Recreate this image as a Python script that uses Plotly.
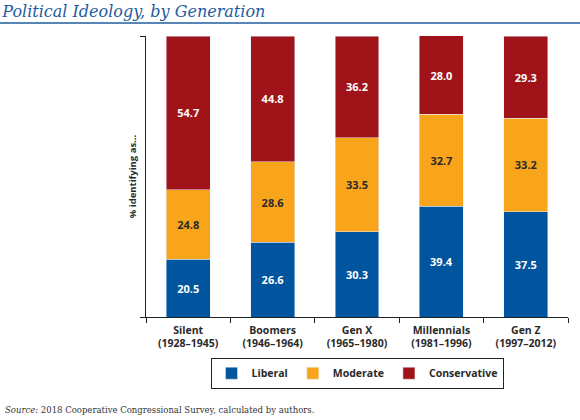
import plotly.graph_objects as go

generations = ["Silent<br>(1928–1945)", "Boomers<br>(1946–1964)", "Gen X<br>(1965–1980)",
               "Millennials<br>(1981–1996)", "Gen Z<br>(1997–2012)"]
liberal = [20.5, 26.6, 30.3, 39.4, 37.5]
moderate = [24.8, 28.6, 33.5, 32.7, 33.2]
conservative = [54.7, 44.8, 36.2, 28.0, 29.3]

# plot area in pixels (580x420 window)
L, R, T, B = 146, 12, 36, 103
pw, ph = 580 - L - R, 420 - T - B

fig = go.Figure()
for name, vals, color, txt in [("Liberal", liberal, "#00559E", "white"),
                               ("Moderate", moderate, "#F9A51B", "#2a2a2a"),
                               ("Conservative", conservative, "#A01319", "white")]:
    fig.add_trace(go.Bar(
        x=generations, y=vals, name=name, marker_color=color, width=0.52,
        text=[f"{v:.1f}" for v in vals], textposition="inside", insidetextanchor="middle",
        textfont=dict(color=txt, size=11, family="Open Sans", weight="bold"),
        hoverinfo="skip",
    ))

fig.update_layout(
    barmode="stack",
    width=580, height=420,
    margin=dict(l=L, r=R, t=T, b=B, autoexpand=False),
    plot_bgcolor="white", paper_bgcolor="white",
    font=dict(family="Open Sans", color="#2a2a2a"),
    title=dict(text="<i>Political Ideology, by Generation</i>", xref="container", x=0.004,
               y=1 - 11 / 420, yanchor="middle", xanchor="left",
               font=dict(family="DejaVu Serif", size=16, color="#1F5C9E")),
    legend=dict(orientation="h", x=0.5, xanchor="center", y=-0.2, yanchor="middle",
                bordercolor="#222", borderwidth=1, font=dict(size=10.5, weight="bold"),
                traceorder="normal", itemwidth=30, tracegroupgap=0),
    showlegend=True,
)
fig.update_xaxes(showline=True, linecolor="#222", linewidth=1, ticks="outside",
                 tickson="boundaries", ticklen=5, tickcolor="#222", automargin=False,
                 ticklabelstandoff=3,
                 tickfont=dict(size=10.5, weight="bold", color="#2a2a2a"))
fig.update_yaxes(range=[0, 100], showline=True, linecolor="#222", linewidth=1,
                 ticks="outside", tickvals=[0, 100], ticklen=5, tickcolor="#222",
                 showticklabels=False, showgrid=False, zeroline=False, automargin=False,
                 title=dict(text="% identifying as...", standoff=1,
                            font=dict(size=9.5, weight="bold", color="#2a2a2a")))

# rule under the title, full width
fig.add_shape(type="line", xref="paper", yref="paper",
              x0=-L / pw, x1=(580 - L) / pw, y0=(420 - B - 23) / ph, y1=(420 - B - 23) / ph,
              line=dict(color="#1F5C9E", width=1.5))

fig.add_annotation(text="<i>Source:</i> 2018 Cooperative Congressional Survey, calculated by authors.",
                   xref="paper", yref="paper", x=(3 - L) / pw, y=(420 - B - 410) / ph,
                   xanchor="left", yanchor="middle", showarrow=False,
                   font=dict(family="DejaVu Serif", size=8.5, color="#333"))

# drop the default page margin so the figure sits at the window's corner
fig.write_html("out.html", config={"displayModeBar": False},
               post_script="document.body.style.margin='0px';")
